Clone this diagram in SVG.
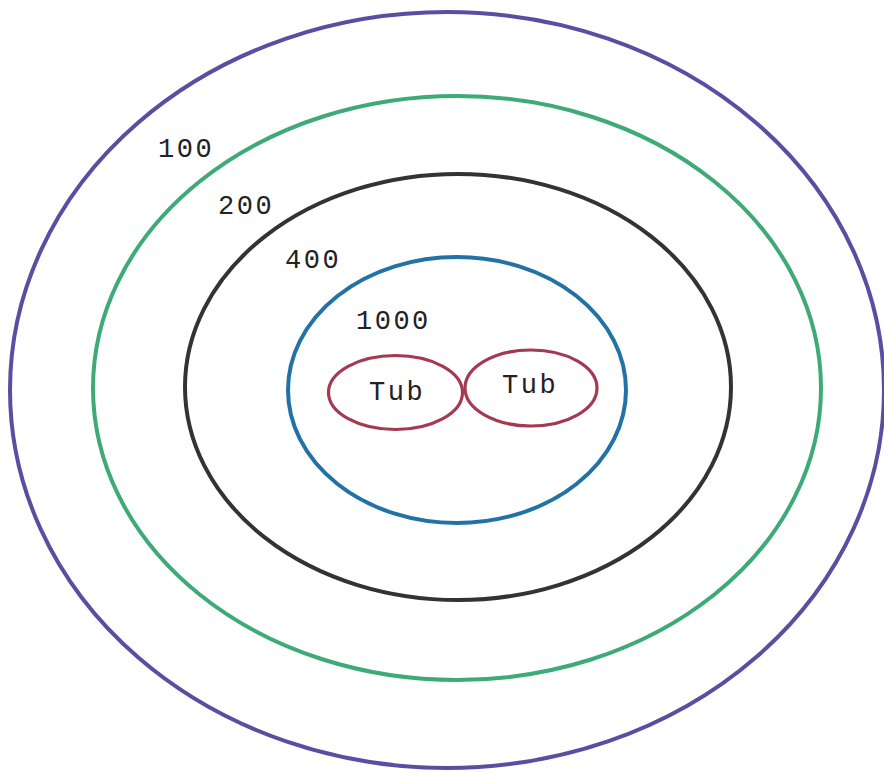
<svg xmlns="http://www.w3.org/2000/svg" width="884" height="771" viewBox="0 0 884 771">
<style>
.ring{fill:none;stroke-width:4}
.lbl{font-family:"Liberation Mono","Courier New",monospace;font-size:27px;fill:#222;letter-spacing:2.5px}
.tub{fill:none;stroke:#a33a52;stroke-width:3.2}
</style>
<rect width="884" height="771" fill="#fff"/>
<g id="ring100"><ellipse class="ring" cx="447" cy="390" rx="437" ry="378" stroke="#5a4ea3"/><text class="lbl" x="158" y="157">100</text></g>
<g id="ring200"><ellipse class="ring" cx="457" cy="388" rx="364" ry="292" stroke="#3daa78" stroke-width="4.5"/><text class="lbl" x="218" y="214">200</text></g>
<g id="ring400"><ellipse class="ring" cx="458" cy="387" rx="273" ry="213" stroke="#333"/><text class="lbl" x="285" y="268">400</text></g>
<g id="ring1000"><ellipse class="ring" cx="457" cy="390" rx="169" ry="133" stroke="#2372a6"/><text class="lbl" x="356" y="329">1000</text></g>
<g id="tub1"><ellipse class="tub" cx="395.5" cy="392.5" rx="67" ry="37"/><text class="lbl" x="369" y="400">Tub</text></g>
<g id="tub2"><ellipse class="tub" cx="531" cy="388" rx="66" ry="38"/><text class="lbl" x="502" y="393">Tub</text></g>
<g id="connectors"/>
</svg>
